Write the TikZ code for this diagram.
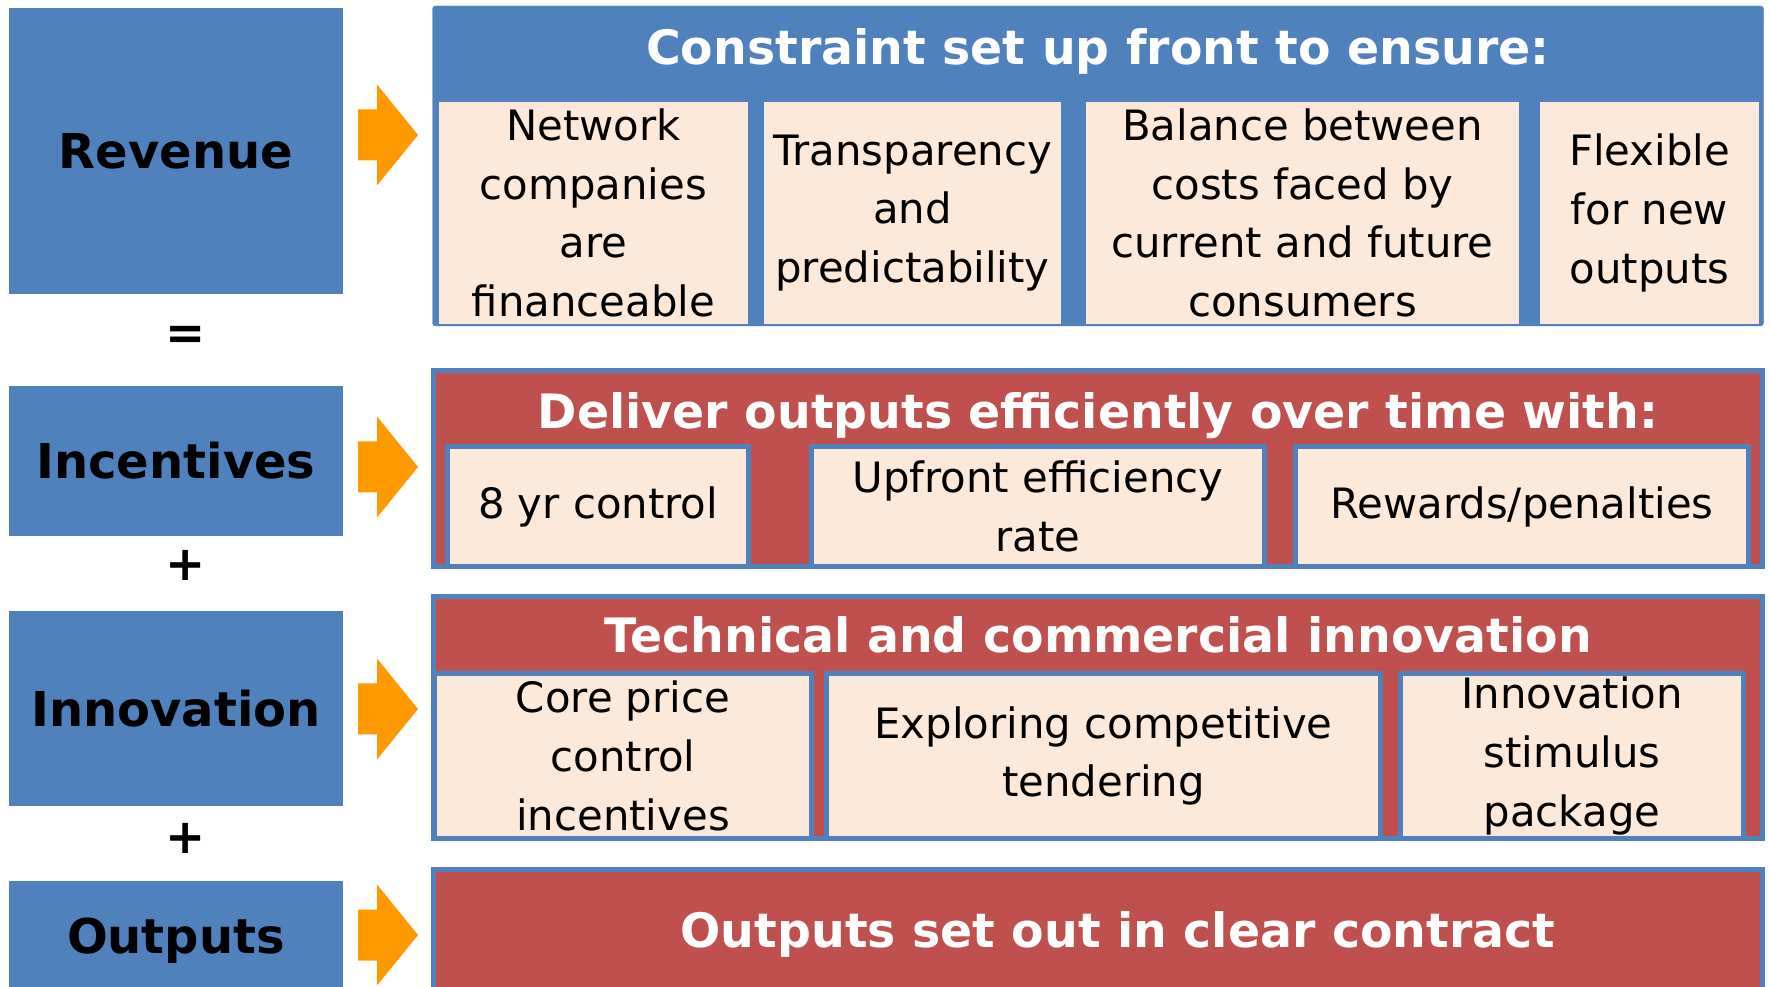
\documentclass[tikz,border=0pt]{standalone}
\usepackage{fontspec}
\setmainfont{DejaVu Sans}

\definecolor{ofblue}{HTML}{4F81BD}
\definecolor{ofred}{HTML}{C0504D}
\definecolor{ofpeach}{HTML}{FDE9D9}
\definecolor{oforange}{HTML}{FF9900}

\begin{document}
\begin{tikzpicture}[
  x=1pt,y=1pt,
  lever/.style={fill=ofblue, inner sep=0pt, outer sep=0pt, minimum width=334pt, font=\fontsize{48}{56}\selectfont\bfseries},
  sign/.style={font=\fontsize{48}{56}\selectfont\bfseries},
  toppanel/.style={fill=ofblue, draw=ofblue, rounded corners=3pt, inner sep=0pt, minimum width=1331pt},
  panel/.style={fill=ofred, draw=ofblue, line width=5pt, inner sep=0pt, minimum width=1329pt},
  heading/.style={text=white, anchor=base, font=\fontsize{47.4}{56}\selectfont\bfseries},
  cell/.style={fill=ofpeach, inner sep=0pt, align=center, font=\fontsize{41.8}{58.6}\selectfont},
  framedcell/.style={cell, draw=ofblue, line width=5pt},
  blockarrow/.pic={\fill[oforange] (0,25.5) -- (19,25.5) -- (19,50.5) -- (60,0) -- (19,-50.5) -- (19,-25.5) -- (0,-25.5) -- cycle;}
]
\path[use as bounding box] (0,0) rectangle (1770,986);
\clip (0,0) rectangle (1770,986);
\fill[white] (0,0) rectangle (1770,986);

% Left column: the four levers
\node[lever, minimum height=286pt] (rev) at (176,835) {Revenue};
\node[lever, minimum height=150pt] (inc) at (176,525) {Incentives};
\node[lever, minimum height=195pt] (inn) at (176,277.5) {Innovation};
\node[lever, minimum height=120pt] (outp) at (176,45) {Outputs};

\node[sign] (eq) at (186,648) {=};
\node[sign] (plusA) at (186,421) {+};
\node[sign] (plusB) at (186,148) {+};

% Orange arrows between the columns
\pic at (358,851) {blockarrow};
\pic at (358,519) {blockarrow};
\pic at (358,277) {blockarrow};
\pic at (358,51) {blockarrow};

% ================= Panel 1: constraint =================
\node[toppanel, minimum height=320pt] (pcons) at (1098,820) {};
\node[heading] (hdcons) at (1098,921) {Constraint set up front to ensure:};
\node[cell, minimum width=309pt, minimum height=222pt] (fin) at (593.5,773) {Network\\companies\\are\\financeable};
\node[cell, minimum width=297pt, minimum height=222pt] (transp) at (912.5,773) {Transparency\\and\\predictability};
\node[cell, minimum width=433pt, minimum height=222pt] (balance) at (1302.5,773) {Balance between\\costs faced by\\current and future\\consumers};
\node[cell, minimum width=219pt, minimum height=222pt] (flex) at (1649.5,773) {Flexible\\for new\\outputs};

% ================= Panel 2: efficiency =================
\node[panel, minimum height=196pt] (pdeliver) at (1098,517.5) {};
\node[heading] (hddeliver) at (1098,557) {Deliver outputs efficiently over time with:};
\node[framedcell, minimum width=301pt, minimum height=120pt] (ctrl) at (598,479.5) {8 yr control};
\node[framedcell, minimum width=453pt, minimum height=120pt] (upfront) at (1038,479.5) {Upfront efficiency\\rate};
\node[framedcell, minimum width=453pt, minimum height=120pt] (rewards) at (1522,479.5) {Rewards/penalties};

% ================= Panel 3: innovation =================
\node[panel, minimum height=242pt] (ptech) at (1098,268.5) {};
\node[heading] (hdtech) at (1098,333) {Technical and commercial innovation};
\node[framedcell, minimum width=377pt, minimum height=165pt] (core) at (623,230) {Core price\\control\\incentives};
\node[framedcell, minimum width=554pt, minimum height=165pt] (tender) at (1103.5,230) {Exploring competitive\\tendering};
\node[framedcell, minimum width=343pt, minimum height=165pt] (stimulus) at (1572,230) {Innovation\\stimulus\\package};

% ================= Panel 4: outputs =================
\node[panel, minimum height=141pt] (pcontract) at (1098,46) {};
\node[heading] (hdcontract) at (1118,39) {Outputs set out in clear contract};

\end{tikzpicture}
\end{document}
